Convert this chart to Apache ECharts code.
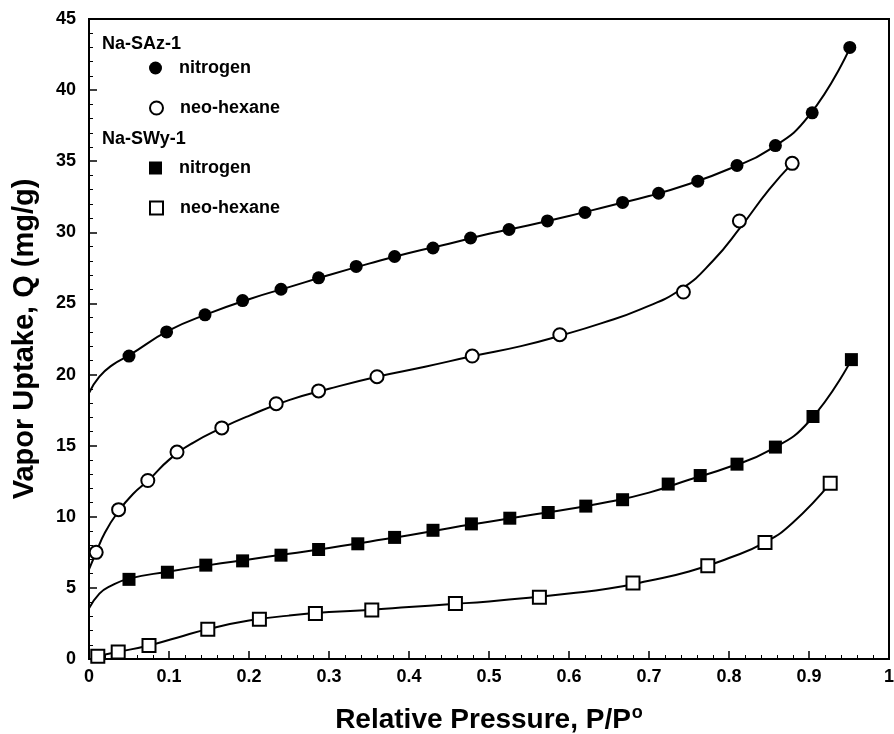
<!DOCTYPE html>
<html>
<head>
<meta charset="utf-8">
<script src="https://cdn.jsdelivr.net/npm/echarts@6/dist/echarts.min.js"></script>
<style>
  html, body { margin: 0; padding: 0; background: #fff; }
  #chart { width: 894px; height: 734px; }
</style>
</head>
<body>
<div id="chart"></div>
<script>
const sazNitrogenX = [0.050, 0.097, 0.145, 0.192, 0.240, 0.287, 0.334, 0.382, 0.430, 0.477, 0.525, 0.573, 0.620, 0.667, 0.712, 0.761, 0.810, 0.858, 0.904, 0.951]
const sazNitrogenY = [21.3, 23.0, 24.2, 25.2, 26.0, 26.8, 27.6, 28.3, 28.9, 29.6, 30.2, 30.8, 31.4, 32.1, 32.75, 33.6, 34.7, 36.1, 38.4, 43.0]
const sazHexaneX = [0.009, 0.037, 0.0735, 0.110, 0.166, 0.234, 0.287, 0.360, 0.479, 0.5885, 0.743, 0.813, 0.879]
const sazHexaneY = [7.5, 10.5, 12.55, 14.55, 16.25, 17.95, 18.85, 19.85, 21.3, 22.8, 25.8, 30.8, 34.85]
const swyNitrogenX = [0.050, 0.098, 0.146, 0.192, 0.240, 0.287, 0.336, 0.382, 0.430, 0.478, 0.526, 0.574, 0.621, 0.667, 0.724, 0.764, 0.810, 0.858, 0.905, 0.953]
const swyNitrogenY = [5.6, 6.1, 6.6, 6.9, 7.3, 7.7, 8.1, 8.55, 9.05, 9.5, 9.9, 10.3, 10.75, 11.2, 12.3, 12.9, 13.7, 14.9, 17.05, 21.05]
const swyHexaneX = [0.011, 0.0365, 0.075, 0.1485, 0.213, 0.283, 0.3535, 0.458, 0.563, 0.680, 0.7735, 0.845, 0.9265]
const swyHexaneY = [0.2, 0.5, 0.95, 2.1, 2.8, 3.2, 3.45, 3.9, 4.35, 5.35, 6.55, 8.2, 12.35]

// fitted curves
const sazNitrogenFit = [[0, 18.7], [0.013, 19.85], [0.03, 20.7], [0.05, 21.35], [0.1, 23.1], [0.15, 24.3], [0.2, 25.3], [0.25, 26.15], [0.3, 27.0], [0.35, 27.8], [0.4, 28.55], [0.45, 29.2], [0.5, 29.9], [0.55, 30.5], [0.6, 31.15], [0.65, 31.85], [0.7, 32.55], [0.75, 33.4], [0.8, 34.45], [0.85, 35.8], [0.9, 38.2], [0.951, 42.95]]
const sazHexaneFit = [[0, 6.3], [0.009, 7.5], [0.02, 8.9], [0.037, 10.4], [0.055, 11.6], [0.075, 12.6], [0.1, 14.0], [0.13, 15.2], [0.166, 16.25], [0.2, 17.1], [0.25, 18.2], [0.3, 19.0], [0.36, 19.85], [0.42, 20.55], [0.48, 21.3], [0.54, 22.0], [0.59, 22.75], [0.64, 23.6], [0.69, 24.6], [0.74, 26.0], [0.78, 28.0], [0.815, 30.4], [0.85, 33.0], [0.879, 34.85]]
const swyNitrogenFit = [[0, 3.56], [0.013, 4.6], [0.026, 5.1], [0.05, 5.65], [0.1, 6.15], [0.15, 6.6], [0.2, 7.0], [0.25, 7.4], [0.3, 7.8], [0.35, 8.25], [0.4, 8.7], [0.45, 9.2], [0.5, 9.65], [0.55, 10.1], [0.6, 10.55], [0.65, 11.05], [0.7, 11.7], [0.75, 12.6], [0.8, 13.5], [0.85, 14.65], [0.9, 16.7], [0.953, 21.05]]
const swyHexaneFit = [[0.003, 0.05], [0.011, 0.2], [0.0365, 0.5], [0.075, 0.95], [0.11, 1.5], [0.1485, 2.1], [0.2, 2.7], [0.25, 3.05], [0.3, 3.3], [0.35, 3.45], [0.4, 3.65], [0.45, 3.85], [0.5, 4.05], [0.55, 4.3], [0.6, 4.6], [0.65, 4.95], [0.7, 5.5], [0.75, 6.15], [0.8, 7.1], [0.845, 8.2], [0.88, 9.6], [0.9265, 12.35]]

const FONT = 'Liberation Sans, Arial, sans-serif'

function pairs (xs, ys) {
  return xs.map((x, i) => [x, ys[i]])
}

function curve (fit) {
  return {
    type: 'line',
    data: fit,
    smooth: 0.5,
    showSymbol: false,
    silent: true,
    z: 2,
    lineStyle: { color: '#000', width: 2 }
  }
}

function marks (name, xs, ys, symbol, filled) {
  return {
    name: name,
    type: 'scatter',
    data: pairs(xs, ys),
    symbol: symbol,
    symbolSize: 13,
    z: 3,
    itemStyle: filled
      ? { color: '#000', borderColor: '#000', borderWidth: 0, opacity: 1 }
      : { color: '#fff', borderColor: '#000', borderWidth: 2, opacity: 1 }
  }
}

function oneLegend (name, top) {
  return {
    data: [name],
    left: 144,
    top: top,
    orient: 'vertical',
    itemWidth: 13,
    itemHeight: 13,
    selectedMode: false,
    formatter: n => n.split(' ')[1],
    textStyle: {
      fontFamily: FONT,
      fontWeight: 'bold',
      fontSize: 18,
      color: '#000',
      padding: [0, 0, 0, 12]
    }
  }
}

const chart = echarts.init(document.getElementById('chart'))
chart.setOption({
  animation: false,
  backgroundColor: '#fff',
  grid: {
    left: 89,
    right: 5,
    top: 19,
    bottom: 75,
    outerBoundsMode: 'none',
    show: true,
    borderColor: '#000',
    borderWidth: 2
  },
  legend: [
    oneLegend('SAz nitrogen', 54),
    oneLegend('SAz neo-hexane', 94),
    oneLegend('SWy nitrogen', 154),
    oneLegend('SWy neo-hexane', 194)
  ],
  graphic: [
    {
      type: 'text',
      left: 102,
      top: 35,
      style: { text: 'Na-SAz-1', font: 'bold 18px ' + FONT, fill: '#000' }
    },
    {
      type: 'text',
      left: 102,
      top: 130,
      style: { text: 'Na-SWy-1', font: 'bold 18px ' + FONT, fill: '#000' }
    }
  ],
  xAxis: {
    type: 'value',
    min: 0,
    max: 1,
    interval: 0.1,
    name: 'Relative Pressure, P/P{sup|o}',
    nameLocation: 'middle',
    nameGap: 45,
    nameTextStyle: {
      fontFamily: FONT,
      fontWeight: 'bold',
      fontSize: 28,
      color: '#000',
      rich: {
        sup: { fontFamily: FONT, fontWeight: 'bold', fontSize: 18, color: '#000', padding: [0, 0, 14, 1] }
      }
    },
    axisLine: { lineStyle: { color: '#000', width: 2 } },
    axisTick: { inside: true, length: 8, lineStyle: { color: '#000', width: 1.5 } },
    minorTick: { show: true, splitNumber: 5, length: 4, lineStyle: { color: '#000', width: 1 } },
    splitLine: { show: false },
    axisLabel: {
      margin: 9,
      fontFamily: FONT,
      fontWeight: 'bold',
      fontSize: 18,
      color: '#000'
    }
  },
  yAxis: {
    type: 'value',
    min: 0,
    max: 45,
    interval: 5,
    name: 'Vapor Uptake, Q (mg/g)',
    nameLocation: 'middle',
    nameGap: 50,
    nameTextStyle: {
      fontFamily: FONT,
      fontWeight: 'bold',
      fontSize: 29,
      color: '#000'
    },
    axisLine: { show: true, lineStyle: { color: '#000', width: 2 } },
    axisTick: { inside: true, length: 8, lineStyle: { color: '#000', width: 1.5 } },
    minorTick: { show: true, splitNumber: 5, length: 4, lineStyle: { color: '#000', width: 1 } },
    splitLine: { show: false },
    axisLabel: {
      margin: 13,
      fontFamily: FONT,
      fontWeight: 'bold',
      fontSize: 18,
      color: '#000'
    }
  },
  series: [
    curve(sazNitrogenFit),
    curve(sazHexaneFit),
    curve(swyNitrogenFit),
    curve(swyHexaneFit),
    marks('SAz nitrogen', sazNitrogenX, sazNitrogenY, 'circle', true),
    marks('SAz neo-hexane', sazHexaneX, sazHexaneY, 'circle', false),
    marks('SWy nitrogen', swyNitrogenX, swyNitrogenY, 'rect', true),
    marks('SWy neo-hexane', swyHexaneX, swyHexaneY, 'rect', false)
  ]
})
</script>
</body>
</html>
